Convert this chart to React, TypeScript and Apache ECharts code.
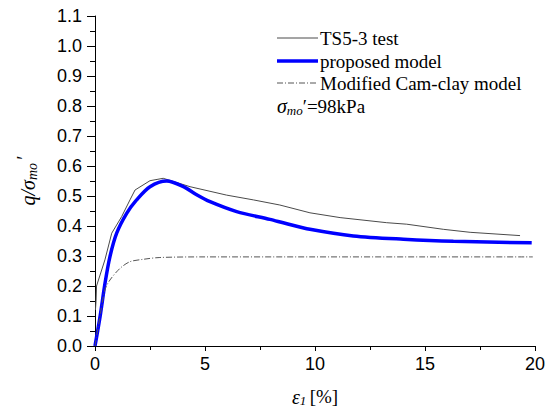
import React, { useEffect, useRef } from "react";
import * as echarts from "echarts";

const testX = [0.02, 0.05, 0.07, 0.45, 0.76, 1.21, 1.59, 1.82, 2.5, 3.1, 4.32, 5.98, 7.2, 8.4, 9.77, 11.14, 13.26, 14.17, 15.83, 17.05, 19.32];
const testY = [0.12, 0.153, 0.2, 0.287, 0.376, 0.431, 0.487, 0.52, 0.551, 0.559, 0.531, 0.503, 0.487, 0.47, 0.444, 0.428, 0.411, 0.406, 0.389, 0.379, 0.368];

const modelX = [0, 0.23, 0.455, 0.68, 0.985, 1.44, 1.89, 2.5, 3.26, 4.02, 4.6, 5.23, 6.44, 7.95, 8.64, 9.77, 11.74, 14.02, 16.29, 19.85];
const modelY = [0, 0.098, 0.209, 0.298, 0.376, 0.442, 0.487, 0.531, 0.55, 0.531, 0.505, 0.481, 0.448, 0.422, 0.409, 0.389, 0.367, 0.356, 0.349, 0.344];

const camX = [0, 0.23, 0.45, 0.68, 1.14, 1.59, 2.2, 2.95, 5, 10, 15, 19.9];
const camY = [0, 0.1, 0.187, 0.22, 0.259, 0.281, 0.289, 0.295, 0.297, 0.297, 0.297, 0.297];

const seriesNames = ["TS5-3 test", "proposed model", "Modified Cam-clay model"];

const zip = (xs: number[], ys: number[]) => xs.map((x, i) => [x, ys[i]]);

export default function App() {
  const ref = useRef<HTMLDivElement>(null);
  useEffect(() => {
    if (!ref.current) return;
    const chart = echarts.init(ref.current, null, { renderer: "svg" });
    const serif = "Liberation Serif";
    const sans = "Liberation Sans";
    const testStyle = { color: "#4a4a4a", width: 1 };
    const modelStyle = { color: "#0000ff", width: 3.5 };
    const camStyle = { color: "#555", width: 1, type: [6, 2, 1, 2] };
    const lx0 = 277;
    const lx1 = 318;
    const rows = [38, 61, 83, 106];
    const legendLine = (y: number, s: any) => ({
      type: "line",
      shape: { x1: lx0, y1: y, x2: lx1, y2: y },
      style: { stroke: s.color, lineWidth: s.width, lineDash: s.type },
    });
    const legendText = (y: number, t: string) => ({
      type: "text",
      x: 320,
      y,
      style: { text: t, fontFamily: serif, fontSize: 19, fill: "#000", verticalAlign: "middle" },
    });
    chart.setOption({
      animation: false,
      backgroundColor: "#fff",
      grid: { left: 95, right: 15, top: 16, bottom: 63, containLabel: false, outerBoundsMode: "none" },
      xAxis: {
        type: "value",
        min: 0,
        max: 20,
        interval: 5,
        name: "{e|ε}{s|1} {n|[%]}",
        nameLocation: "middle",
        nameGap: 40,
        nameTextStyle: {
          rich: {
            e: { fontFamily: serif, fontStyle: "italic", fontSize: 20, color: "#000" },
            s: { fontFamily: serif, fontStyle: "italic", fontSize: 13, color: "#000", padding: [8, 0, 0, 0] },
            n: { fontFamily: serif, fontSize: 19, color: "#000" },
          },
        },
        axisLine: { lineStyle: { color: "#000", width: 1 } },
        axisTick: { length: 5, lineStyle: { color: "#000" } },
        minorTick: { show: true, splitNumber: 2, length: 4, lineStyle: { color: "#000" } },
        splitLine: { show: false },
        axisLabel: { fontFamily: sans, fontSize: 18, color: "#000", margin: 9 },
      },
      yAxis: {
        type: "value",
        min: 0,
        max: 1.1,
        interval: 0.1,
        name: "{q|q/σ}{s|mo}{p|′}",
        nameLocation: "middle",
        nameGap: 53,
        nameRotate: 90,
        nameTextStyle: {
          rich: {
            q: { fontFamily: serif, fontStyle: "italic", fontSize: 20, color: "#000" },
            s: { fontFamily: serif, fontStyle: "italic", fontSize: 14, color: "#000", padding: [9, 0, 0, 0] },
            p: { fontFamily: serif, fontStyle: "italic", fontSize: 20, color: "#000", padding: [0, 0, 8, 2] },
          },
        },
        axisLine: { show: true, lineStyle: { color: "#000", width: 1 } },
        axisTick: { show: true, length: 8, lineStyle: { color: "#000" } },
        minorTick: { show: true, splitNumber: 2, length: 5, lineStyle: { color: "#000" } },
        splitLine: { show: false },
        axisLabel: { fontFamily: sans, fontSize: 18, color: "#000", margin: 13, formatter: (v: number) => v.toFixed(1) },
      },
      series: [
        {
          name: seriesNames[0],
          type: "line",
          data: zip(testX, testY),
          showSymbol: false,
          symbol: "none",
          lineStyle: testStyle,
        },
        {
          name: seriesNames[1],
          type: "line",
          data: zip(modelX, modelY),
          smooth: 0.3,
          showSymbol: false,
          symbol: "none",
          lineStyle: modelStyle,
        },
        {
          name: seriesNames[2],
          type: "line",
          data: zip(camX, camY),
          smooth: 0.3,
          showSymbol: false,
          symbol: "none",
          lineStyle: camStyle,
        },
      ],
      graphic: [
        legendLine(rows[0], testStyle),
        legendText(rows[0], seriesNames[0]),
        legendLine(rows[1], modelStyle),
        legendText(rows[1], seriesNames[1]),
        legendLine(rows[2], camStyle),
        legendText(rows[2], seriesNames[2]),
        {
          type: "text",
          x: 277,
          y: rows[3],
          style: {
            text: "{a|σ}{b|mo}{c|′=98kPa}",
            verticalAlign: "middle",
            rich: {
              a: { fontFamily: serif, fontStyle: "italic", fontSize: 20, fill: "#000" },
              b: { fontFamily: serif, fontStyle: "italic", fontSize: 13, fill: "#000", padding: [9, 0, 0, 0] },
              c: { fontFamily: serif, fontSize: 19, fill: "#000" },
            },
          },
        },
      ],
    });
    return () => chart.dispose();
  }, []);
  return <div ref={ref} style={{ position: "absolute", left: 0, top: 0, width: 550, height: 409 }} />;
}
